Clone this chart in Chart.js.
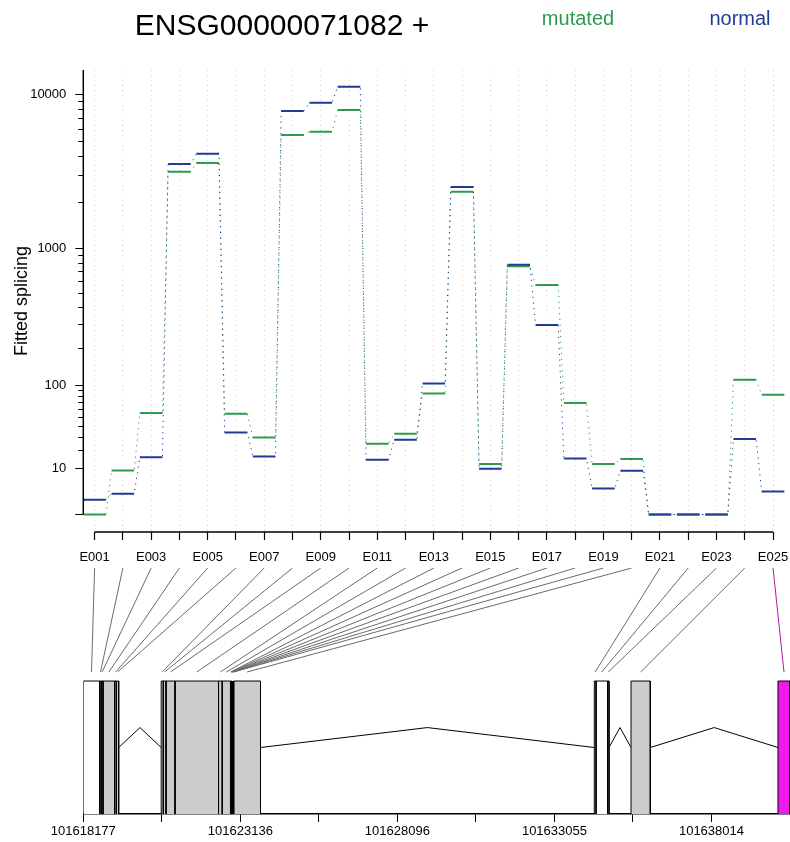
<!DOCTYPE html>
<html>
<head>
<meta charset="utf-8">
<title>ENSG00000071082 fitted splicing</title>
<script src="https://cdn.jsdelivr.net/npm/chart.js@4.4.1/dist/chart.umd.min.js"></script>
<style>
  html, body { margin: 0; padding: 0; background: #fff; }
  #wrap { position: relative; width: 790px; height: 842px; overflow: hidden;
          font-family: "Liberation Sans", Arial, Helvetica, sans-serif; }
  #wrap canvas { position: absolute; left: 0; }
  #cExpr { top: 0; }
  #cGene { top: 560px; }
  .lbl { position: absolute; white-space: nowrap; line-height: 1; transform: translateX(-50%); }
  #title { left: 282px; top: 10px; font-size: 30px; color: #000; }
  #legMut { left: 578px; top: 8px; font-size: 20px; color: #2f9a4f; }
  #legNor { left: 740px; top: 8px; font-size: 20px; color: #1f3d95; }
</style>
</head>
<body>
<div id="wrap">
  <canvas id="cExpr" width="790" height="575"></canvas>
  <canvas id="cGene" width="790" height="282"></canvas>
  <div class="lbl" id="title">ENSG00000071082 +</div>
  <div class="lbl" id="legMut">mutated</div>
  <div class="lbl" id="legNor">normal</div>
</div>
<script>
// ---- exonic parts and fitted splicing values ----
const exonIds = ['E001','E002','E003','E004','E005','E006','E007','E008','E009','E010',
                 'E011','E012','E013','E014','E015','E016','E017','E018','E019','E020',
                 'E021','E022','E023','E024','E025'];
const normal  = [1.0, 1.95, 15.6, 3556, 4146, 33.9, 16.0, 7810, 8828, 11193,
                 14.1, 27.6, 103.5, 2523, 9.7, 775, 296, 14.8, 3.1, 8.9,
                 0, 0, 0, 28.1, 2.4];
const mutated = [0, 9.0, 55.1, 3170, 3609, 54.2, 29.5, 5474, 5747, 7927,
                 24.4, 32.7, 84.6, 2351, 11.9, 755, 565, 69.0, 11.9, 14.5,
                 0, 0, 0, 111.2, 82.3];

const yTickValues = [0, 10, 100, 1000, 10000];
const yTickLabels = ['', '10', '100', '1000', '10000'];
const yMinorTicks = [20, 30, 40, 50, 60, 70, 80, 90,
                     200, 300, 400, 500, 600, 700, 800, 900,
                     2000, 3000, 4000, 5000, 6000, 7000, 8000, 9000];

// ---- gene model (genomic coordinates, + strand) ----
const geneStart = 101618177;
const geneEnd   = 101640494;
const exonStart = [101618177, 101618695, 101618745, 101618799, 101619169, 101619225,
                   101620637, 101620703, 101620789, 101621073, 101622447, 101622563,
                   101622825, 101622841, 101622857, 101622873, 101622889, 101622904,
                   101622917, 101622930, 101634314, 101634368, 101634731, 101635473,
                   101640115];
const exonEnd   = [101618695, 101618745, 101618799, 101619169, 101619225, 101619295,
                   101620703, 101620789, 101621073, 101622447, 101622563, 101622825,
                   101622841, 101622857, 101622873, 101622889, 101622904, 101622917,
                   101622930, 101623773, 101634368, 101634731, 101634778, 101636082,
                   101640494];
const exonStatus = ['untested','tested','tested','tested','tested','tested','tested','tested',
                    'tested','tested','tested','tested','tested','tested','tested','tested',
                    'tested','tested','tested','tested','untested','untested','untested',
                    'tested','significant'];
const geneTicks = [101618177, 101620657, 101623136, 101625616, 101628096,
                   101630575, 101633055, 101635535, 101638014, 101640494];
const geneTickLabels = ['101618177', '', '101623136', '', '101628096',
                        '', '101633055', '', '101638014', ''];

// ---- styling ----
const FONT = '"Liberation Sans", Arial, Helvetica, sans-serif';
const COL_NORMAL = '#1f3d95';
const COL_MUTATED = '#2f9a4f';
const STATUS_FILL = { untested: '#ffffff', tested: '#cccccc', significant: '#f219ed' };
const LINK_COL = '#6a6a6a';
const LINK_SIG_COL = '#b015b0';
const GRID_COL = '#d2d2d2';
const GRID_SIG_COL = '#f3a3ef';
const SEG_W = 0.8;          // fraction of each exon slot covered by its level
const BOX_TOP = 1, INTRON_BASE = 0.5, INTRON_PEAK = 0.65;
const LINK_BOTTOM = 1.068, LINK_TOP = 1.85;

Chart.defaults.font.family = FONT;
Chart.defaults.color = '#000';

// ---- variance-stabilising y axis ----
const VST_C = 82;
const vst = v => Math.sign(v) * Math.asinh(Math.sqrt(Math.abs(v) / VST_C));
const vstInv = f => Math.sign(f) * VST_C * Math.sinh(f) ** 2;

class VstScale extends Chart.Scale {
  static id = 'vst';
  static defaults = {};
  parse(raw) {
    if (raw === null || raw === undefined) return null;
    const v = +raw;
    return Number.isFinite(v) ? v : null;
  }
  determineDataLimits() {
    const { min, max } = this.getMinMax(true);
    this.min = Number.isFinite(this.options.min) ? this.options.min : min;
    this.max = Number.isFinite(this.options.max) ? this.options.max : max;
  }
  buildTicks() {
    return yTickValues.map(v => ({ value: v }));
  }
  getLabelForValue(v) { return String(v); }
  configure() {
    super.configure();
    this._fStart = vst(this.min);
    this._fRange = vst(this.max) - this._fStart;
  }
  getPixelForValue(v) {
    if (v === null || v === undefined || !Number.isFinite(v)) return NaN;
    return this.getPixelForDecimal((vst(v) - this._fStart) / this._fRange);
  }
  getValueForPixel(p) {
    return vstInv(this._fStart + this.getDecimalForPixel(p) * this._fRange);
  }
}
Chart.register(VstScale);

// ---- expression panel ----
function levelPieces(vals) {
  const pts = [];
  vals.forEach((v, i) => {
    pts.push({ x: i, y: v }, { x: i + SEG_W, y: v }, { x: i + SEG_W, y: null });
  });
  return pts;
}
function levelPath(vals) {
  const pts = [];
  vals.forEach((v, i) => { pts.push({ x: i, y: v }, { x: i + SEG_W, y: v }); });
  return pts;
}

const exprAxes = {
  id: 'exprAxes',
  afterDraw(chart) {
    const { ctx, chartArea, scales } = chart;
    const x = scales.x, y = scales.y;
    ctx.save();
    ctx.strokeStyle = '#000';
    ctx.lineWidth = 1.5;
    ctx.beginPath();
    ctx.moveTo(chartArea.left, y.getPixelForValue(0));
    ctx.lineTo(chartArea.left, chartArea.top);
    ctx.moveTo(x.getPixelForValue(SEG_W / 2), chartArea.bottom);
    ctx.lineTo(x.getPixelForValue(exonIds.length - 1 + SEG_W / 2), chartArea.bottom);
    ctx.stroke();
    ctx.lineWidth = 1;
    ctx.beginPath();
    yMinorTicks.forEach(v => {
      const py = Math.round(y.getPixelForValue(v)) + 0.5;
      ctx.moveTo(chartArea.left - 5, py);
      ctx.lineTo(chartArea.left, py);
    });
    ctx.stroke();
    ctx.restore();
  }
};

new Chart(document.getElementById('cExpr'), {
  type: 'line',
  data: {
    datasets: [
      { label: 'normal', data: levelPieces(normal), borderColor: COL_NORMAL, borderWidth: 2,
        pointRadius: 0, spanGaps: false },
      { label: 'normal steps', data: levelPath(normal), borderColor: COL_NORMAL, borderWidth: 1,
        borderDash: [1.2, 4.5], pointRadius: 0 },
      { label: 'mutated', data: levelPieces(mutated), borderColor: COL_MUTATED, borderWidth: 2,
        pointRadius: 0, spanGaps: false },
      { label: 'mutated steps', data: levelPath(mutated), borderColor: COL_MUTATED, borderWidth: 1,
        borderDash: [1.2, 4.5], pointRadius: 0 }
    ]
  },
  options: {
    responsive: false, animation: false, devicePixelRatio: 1,
    layout: { padding: { left: 0, right: 0, top: 70, bottom: 0 } },
    plugins: { legend: { display: false }, tooltip: { enabled: false } },
    scales: {
      x: {
        type: 'linear', min: 0, max: exonIds.length, bounds: 'data',
        afterBuildTicks: s => { s.ticks = exonIds.map((id, i) => ({ value: i + SEG_W / 2 })); },
        ticks: { autoSkip: false, maxRotation: 0, minRotation: 0, padding: 10,
                 font: { size: 13 }, color: '#000',
                 callback: (v, i) => (i % 2 === 0 ? exonIds[i] : '') },
        grid: { display: true, drawOnChartArea: true, drawTicks: true, tickLength: 8,
                color: ctx => (exonStatus[ctx.index] === 'significant' ? GRID_SIG_COL : GRID_COL),
                lineWidth: 1, tickColor: '#000', tickWidth: 1.2, tickBorderDash: [] },
        border: { display: false, dash: [1, 4] },
        afterFit: s => { s.height = 43; s.paddingLeft = 0; s.paddingRight = 0; }
      },
      y: {
        type: 'vst', min: -1.355, max: 14327,
        ticks: { autoSkip: false, padding: 9, font: { size: 13 }, color: '#000',
                 callback: (v, i) => yTickLabels[i] },
        grid: { display: true, drawOnChartArea: false, drawTicks: true, tickLength: 8,
                tickColor: '#000', tickWidth: 1 },
        border: { display: false },
        title: { display: true, text: 'Fitted splicing', color: '#000',
                 font: { size: 18 }, padding: { top: 11, bottom: 0 } },
        afterFit: s => { s.width = 83.3; s.paddingTop = 0; s.paddingBottom = 0; }
      }
    }
  },
  plugins: [exprAxes]
});

// ---- gene model panel ----
const geneSets = [];
exonIds.forEach((id, i) => {
  geneSets.push({
    label: id,
    data: [ { x: exonStart[i], y: 0 }, { x: exonStart[i], y: BOX_TOP },
            { x: exonEnd[i], y: BOX_TOP }, { x: exonEnd[i], y: 0 } ],
    borderColor: '#000', borderWidth: 1, backgroundColor: STATUS_FILL[exonStatus[i]],
    fill: 'origin', pointRadius: 0, tension: 0
  });
});
for (let i = 0; i + 1 < exonIds.length; i++) {
  if (exonStart[i + 1] > exonEnd[i]) {
    geneSets.push({
      label: 'intron ' + (i + 1),
      data: [ { x: exonEnd[i], y: INTRON_BASE },
              { x: (exonEnd[i] + exonStart[i + 1]) / 2, y: INTRON_PEAK },
              { x: exonStart[i + 1], y: INTRON_BASE } ],
      borderColor: '#000', borderWidth: 1, pointRadius: 0, fill: false, tension: 0
    });
  }
}
exonIds.forEach((id, i) => {
  const slot = geneStart + (i + SEG_W / 2) / exonIds.length * (geneEnd - geneStart);
  geneSets.push({
    label: 'link ' + id,
    data: [ { x: slot, y: LINK_TOP }, { x: (exonStart[i] + exonEnd[i]) / 2, y: LINK_BOTTOM } ],
    borderColor: exonStatus[i] === 'significant' ? LINK_SIG_COL : LINK_COL,
    borderWidth: 1, pointRadius: 0, fill: false
  });
});

new Chart(document.getElementById('cGene'), {
  type: 'line',
  data: { datasets: geneSets },
  options: {
    responsive: false, animation: false, devicePixelRatio: 1,
    layout: { padding: { left: 83.3, right: 0, top: 8, bottom: 0 } },
    plugins: { legend: { display: false }, tooltip: { enabled: false } },
    scales: {
      x: {
        type: 'linear', min: geneStart, max: geneEnd, bounds: 'data',
        afterBuildTicks: s => { s.ticks = geneTicks.map(v => ({ value: v })); },
        ticks: { autoSkip: false, maxRotation: 0, minRotation: 0, padding: 2,
                 font: { size: 13 }, color: '#000',
                 callback: (v, i) => geneTickLabels[i] },
        grid: { display: true, drawOnChartArea: false, drawTicks: true, tickLength: 8,
                tickColor: '#000', tickWidth: 1 },
        border: { display: true, color: '#000', width: 1.5 },
        afterFit: s => { s.height = 28; s.paddingLeft = 0; s.paddingRight = 0; }
      },
      y: { type: 'linear', min: 0, max: LINK_TOP, display: false }
    }
  }
});
</script>
</body>
</html>
